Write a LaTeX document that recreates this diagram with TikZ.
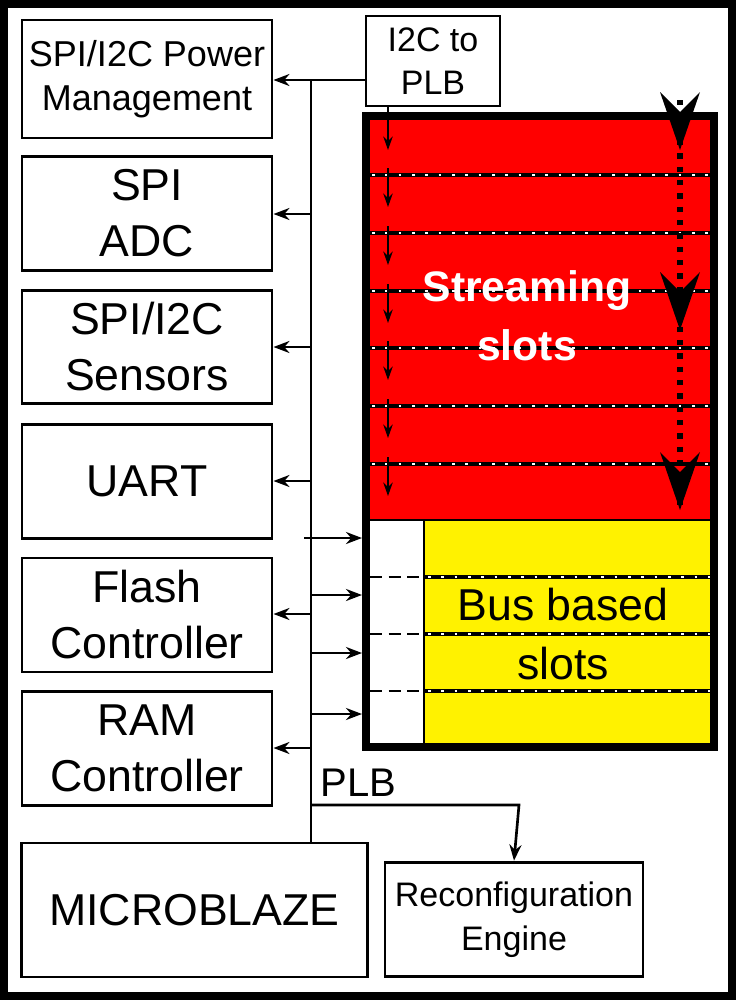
\documentclass[tikz,border=0pt]{standalone}
\usepackage{fontspec}
\setmainfont{Liberation Sans}
\usetikzlibrary{arrows.meta}
\begin{document}
\begin{tikzpicture}[x=0.75pt,y=-0.75pt,
  box/.style={draw,line width=2.2pt,inner sep=0pt,align=center},
  big/.style={font=\fontsize{33.5}{42}\selectfont},
  med/.style={font=\fontsize{26}{33}\selectfont},
  arr/.style={line width=2pt,-{Stealth[length=12pt,width=9pt]}},
  ln/.style={line width=2pt}]
\fill[black] (0,0) rectangle (736,1000);
\fill[white] (8,8) rectangle (728,992);
\useasboundingbox (0,0) rectangle (736,1000);
% left boxes
\node[box,big,font=\fontsize{27}{33}\selectfont,minimum width=187.5pt,minimum height=88.5pt] (pm) at (147,79) {SPI/I2C Power\\Management};
\node[box,big,minimum width=187.5pt,minimum height=85pt] (adc) at (147,213.5) {SPI\\ADC};
\node[box,big,minimum width=187.5pt,minimum height=85pt] (sen) at (147,347) {SPI/I2C\\Sensors};
\node[box,big,minimum width=187.5pt,minimum height=86pt] (uart) at (147,481.5) {UART};
\node[box,big,minimum width=187.5pt,minimum height=85.5pt] (fl) at (147,615) {Flash\\Controller};
\node[box,big,minimum width=187.5pt,minimum height=85pt] (ram) at (147,748.5) {RAM\\Controller};
\node[box,big,minimum width=259pt,minimum height=100.5pt] (mb) at (194.5,910) {MICROBLAZE};
\node[box,font=\fontsize{25.5}{33}\selectfont,minimum width=193.5pt,minimum height=86pt] (re) at (514,919.5) {Reconfiguration\\Engine};
\node[box,font=\fontsize{25.5}{32}\selectfont,minimum width=100.5pt,minimum height=67.5pt] (i2c) at (433,61) {I2C to\\PLB};
% slots
\fill[red] (366,116) rectangle (714,520);
\fill[yellow] (424,520) rectangle (714,747);
\foreach \y in {175,233,291,348,406,464}{
  \draw[line width=3pt] (370,\y) -- (710,\y);
  \draw[white,line width=1.5pt,dash pattern=on 2pt off 8pt] (372,\y) -- (710,\y);}
\foreach \y in {577,634,691}{
  \draw[line width=3pt] (424,\y) -- (710,\y);
  \draw[white,line width=1.3pt,dash pattern=on 2pt off 8pt] (428,\y) -- (710,\y);
  \draw[line width=2pt,dash pattern=on 9pt off 5pt] (370,\y) -- (424,\y);}
\draw[line width=2.2pt] (424,520) -- (424,747);
\draw[line width=2.2pt] (366,520) -- (714,520);
\node[draw,line width=6pt,minimum width=261pt,minimum height=473pt,inner sep=0pt] (slots) at (540,431.5) {};
\node[white,font=\bfseries\fontsize{32}{44}\selectfont,align=center] (st) at (527,316) {Streaming\\slots};
\node[font=\fontsize{33.5}{44}\selectfont,align=center] (bb) at (563,634) {Bus based\\slots};
% small arrows in streaming slots
\coordinate (s0) at (388,106);
\foreach \a/\b in {106/150,168/207,226/265,284/323,341/380,399/438,457/496}{
  \draw[line width=1.5pt,-{Stealth[length=10pt,width=7pt]}] (388,\a) -- (388,\b);}
% dotted big arrow
\draw[line width=4.5pt,dash pattern=on 4pt off 6pt] (680,100) -- (680,510);
\foreach \yy in {150,330,510}{
  \fill (680,\yy) -- (660,\yy-58) -- (680,\yy-38) -- (700,\yy-58) -- cycle;}
% bus
\coordinate (bt) at (311,80);
\coordinate (bb0) at (311,843);
\draw[ln] (bt) -- (bb0);
\draw[arr] (i2c.west |- 0,80) -- (pm.east |- 0,80);
\foreach \n/\y in {adc/214,sen/347,uart/481,fl/614,ram/748}{
  \draw[arr] (311,\y) -- (\n.east |- 0,\y);}
\draw[arr] (304,538) -- (slots.west |- 0,538);
\foreach \y in {595,653,714}{\draw[arr] (311,\y) -- (slots.west |- 0,\y);}
\node[font=\fontsize{30}{36}\selectfont,anchor=west] (plb) at (316,783) {PLB};
\draw[arr] (311,805) -- (519,805) -- (re.north);
\end{tikzpicture}
\end{document}
